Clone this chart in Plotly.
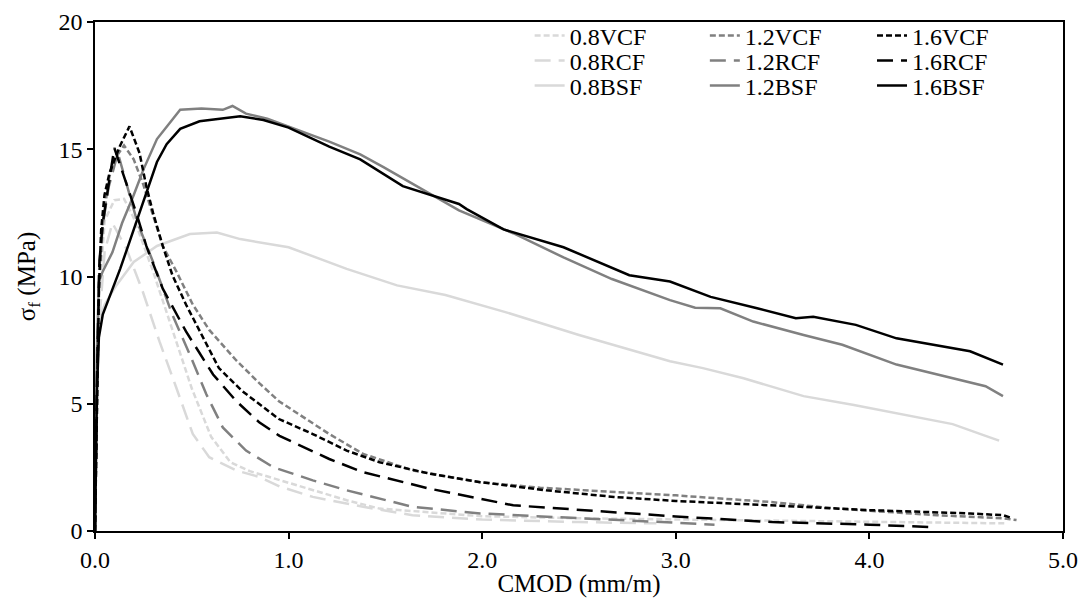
import plotly.graph_objects as go

# CMOD (mm/m) and flexural stress (MPa)
cmod_08vcf = [0, 0.01, 0.02, 0.05, 0.1, 0.15, 0.2, 0.3, 0.4, 0.5, 0.6, 0.7, 0.8, 0.953, 1.125, 1.3, 1.47, 2.0, 2.5, 3.0, 3.5, 4.0, 4.5, 4.7]
sig_08vcf = [0, 6.5, 9.0, 12.2, 13.0, 13.05, 12.3, 10.2, 7.9, 5.6, 3.7, 2.7, 2.35, 2.0, 1.6, 1.21, 0.88, 0.58, 0.5, 0.45, 0.4, 0.36, 0.32, 0.3]

cmod_12vcf = [0, 0.01, 0.02, 0.04, 0.07, 0.1, 0.15, 0.2, 0.25, 0.3, 0.35, 0.42, 0.505, 0.59, 0.73, 0.85, 0.95, 1.21, 1.385, 1.64, 1.99, 2.3, 2.68, 3.0, 3.49, 3.83, 4.35, 4.69, 4.76]
sig_12vcf = [0, 5, 9.5, 12, 13.8, 14.6, 15.15, 14.6, 13.6, 12.4, 11.2, 10.2, 8.9, 7.9, 6.7, 5.8, 5.1, 3.81, 3.03, 2.38, 1.92, 1.7, 1.53, 1.4, 1.14, 0.88, 0.62, 0.5, 0.43]

cmod_16vcf = [0, 0.01, 0.02, 0.032, 0.049, 0.075, 0.127, 0.178, 0.23, 0.265, 0.3, 0.35, 0.4, 0.47, 0.54, 0.64, 0.76, 0.885, 0.95, 1.125, 1.3, 1.47, 1.73, 1.99, 2.33, 2.68, 3.0, 3.49, 4.0, 4.52, 4.69, 4.74]
sig_16vcf = [0, 5, 9.5, 11.86, 13.2, 14.07, 15.1, 15.9, 14.85, 13.55, 12.5, 11.2, 10.05, 8.9, 7.85, 6.4, 5.5, 4.8, 4.4, 3.81, 3.16, 2.7, 2.25, 1.92, 1.6, 1.34, 1.18, 1.01, 0.82, 0.69, 0.62, 0.5]

cmod_08rcf = [0, 0.01, 0.02, 0.05, 0.09, 0.163, 0.247, 0.333, 0.42, 0.505, 0.59, 0.73, 0.85, 0.953, 1.125, 1.385, 1.64, 2.0, 2.5, 2.9]
sig_08rcf = [0, 5, 8, 11, 12.1, 11.08, 9.4, 7.45, 5.63, 3.81, 2.9, 2.38, 2.12, 1.75, 1.34, 0.95, 0.62, 0.45, 0.35, 0.3]

cmod_12rcf = [0, 0.01, 0.02, 0.04, 0.07, 0.118, 0.17, 0.22, 0.3, 0.4, 0.49, 0.575, 0.66, 0.78, 0.92, 1.125, 1.3, 1.64, 1.99, 2.5, 3.0, 3.2]
sig_12rcf = [0, 6, 10, 12, 13.5, 14.85, 13.5, 12.1, 10.57, 8.49, 6.93, 5.37, 4.07, 3.16, 2.51, 1.99, 1.6, 0.95, 0.69, 0.5, 0.3, 0.25]

cmod_16rcf = [0, 0.01, 0.023, 0.04, 0.066, 0.1, 0.16, 0.213, 0.265, 0.35, 0.47, 0.61, 0.73, 0.85, 0.953, 1.21, 1.385, 1.73, 2.16, 2.5, 3.0, 3.5, 4.0, 4.33]
sig_16rcf = [0, 6, 10.6, 12.1, 13.4, 15.05, 13.7, 12.5, 11.2, 9.52, 7.84, 6.15, 5.1, 4.26, 3.74, 2.83, 2.31, 1.66, 1.01, 0.82, 0.57, 0.35, 0.25, 0.15]

cmod_08bsf = [0, 0.01, 0.02, 0.05, 0.11, 0.2, 0.32, 0.49, 0.63, 0.75, 1.0, 1.12, 1.3, 1.56, 1.81, 2.12, 2.5, 2.97, 3.14, 3.35, 3.49, 3.66, 3.92, 4.17, 4.43, 4.6, 4.67]
sig_08bsf = [0, 7.5, 8.3, 8.9, 9.65, 10.57, 11.2, 11.67, 11.73, 11.47, 11.15, 10.8, 10.3, 9.65, 9.27, 8.6, 7.7, 6.67, 6.4, 6.0, 5.69, 5.3, 4.95, 4.59, 4.2, 3.74, 3.55]

cmod_12bsf = [0, 0.01, 0.02, 0.04, 0.09, 0.14, 0.2, 0.25, 0.32, 0.4, 0.44, 0.55, 0.66, 0.71, 0.78, 0.89, 1.0, 1.21, 1.37, 1.49, 1.88, 2.16, 2.42, 2.67, 2.97, 3.1, 3.23, 3.4, 3.66, 3.86, 4.14, 4.35, 4.6, 4.69]
sig_12bsf = [0, 7.0, 9.8, 10.2, 10.95, 12.1, 13.2, 14.2, 15.4, 16.15, 16.55, 16.6, 16.55, 16.7, 16.4, 16.2, 15.9, 15.3, 14.8, 14.3, 12.6, 11.7, 10.75, 9.9, 9.07, 8.77, 8.75, 8.23, 7.7, 7.32, 6.54, 6.15, 5.69, 5.3]

cmod_16bsf = [0, 0.005, 0.01, 0.02, 0.04, 0.07, 0.1, 0.13, 0.18, 0.23, 0.27, 0.32, 0.37, 0.44, 0.54, 0.66, 0.75, 0.87, 1.0, 1.21, 1.37, 1.59, 1.88, 1.92, 2.11, 2.42, 2.76, 2.97, 3.18, 3.42, 3.62, 3.71, 3.93, 4.14, 4.35, 4.52, 4.69]
sig_16bsf = [0, 2.5, 5.5, 7.6, 8.5, 9.1, 9.7, 10.3, 11.4, 12.5, 13.4, 14.5, 15.2, 15.8, 16.1, 16.2, 16.3, 16.15, 15.85, 15.1, 14.6, 13.55, 12.85, 12.65, 11.85, 11.15, 10.05, 9.8, 9.2, 8.75, 8.36, 8.42, 8.1, 7.57, 7.3, 7.06, 6.54]

FONT = "Liberation Serif"
LIGHT, MID, DARK = "#d9d9d9", "#808080", "#000000"
SHORT, LONG = "6px,3px", "16px,8px"

# (name, x, y, colour, dash, legend column, legend row)
series = [
    ("0.8VCF", cmod_08vcf, sig_08vcf, LIGHT, SHORT, 0, 0),
    ("0.8RCF", cmod_08rcf, sig_08rcf, LIGHT, LONG, 0, 1),
    ("0.8BSF", cmod_08bsf, sig_08bsf, LIGHT, "solid", 0, 2),
    ("1.2VCF", cmod_12vcf, sig_12vcf, MID, SHORT, 1, 0),
    ("1.2RCF", cmod_12rcf, sig_12rcf, MID, LONG, 1, 1),
    ("1.2BSF", cmod_12bsf, sig_12bsf, MID, "solid", 1, 2),
    ("1.6VCF", cmod_16vcf, sig_16vcf, DARK, SHORT, 2, 0),
    ("1.6RCF", cmod_16rcf, sig_16rcf, DARK, LONG, 2, 1),
    ("1.6BSF", cmod_16bsf, sig_16bsf, DARK, "solid", 2, 2),
]

# legend grid: one small legend per entry so the rows can sit tight like the original
col_x = [0.449, 0.630, 0.8027]
row_y = [0.9725, 0.9234, 0.8743]

fig = go.Figure()
legends = {}
for i, (name, x, y, color, dash, col, row) in enumerate(series):
    key = "legend" if i == 0 else f"legend{i + 1}"
    fig.add_trace(go.Scatter(x=x, y=y, mode="lines", name=name, legend=key, showlegend=True,
                             line=dict(color=color, width=2.5, dash=dash)))
    legends[key] = dict(x=col_x[col], y=row_y[row], xanchor="left", yanchor="middle",
                        font=dict(family=FONT, size=24, color="black"),
                        bgcolor="rgba(0,0,0,0)", itemwidth=30)

axis_style = dict(showgrid=False, zeroline=False, showline=True, linecolor="black",
                  linewidth=1.5, mirror=True, ticks="outside", ticklen=6,
                  tickcolor="black", tickwidth=1.5, automargin=False,
                  ticklabeloverflow="allow",
                  tickfont=dict(family=FONT, size=24, color="black"))

# page body has an 8px margin, so the figure is 8px smaller than the window
fig.update_layout(
    width=1078, height=600,
    margin=dict(l=87, r=23, t=14, b=77, autoexpand=False),
    paper_bgcolor="white", plot_bgcolor="white",
    showlegend=True,
    font=dict(family=FONT, size=24, color="black"),
    xaxis=dict(range=[0, 5], dtick=1, tickformat=".1f",
               title=dict(text="CMOD (mm/m)", font=dict(family=FONT, size=25), standoff=3),
               **axis_style),
    yaxis=dict(range=[0, 20], dtick=5,
               title=dict(text="σ<sub>f</sub> (MPa)", font=dict(family=FONT, size=25), standoff=16),
               **axis_style),
    **legends,
)

fig.write_html("out.html")
